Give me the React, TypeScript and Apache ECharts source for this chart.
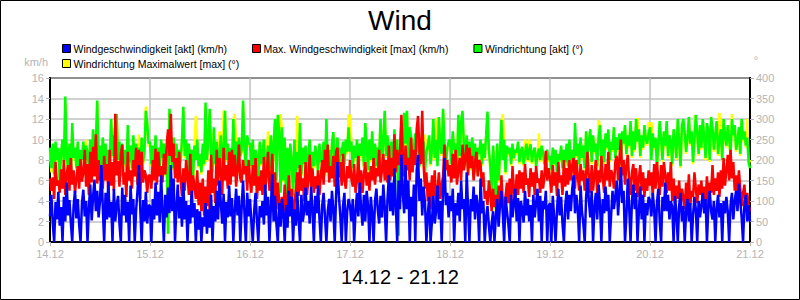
import React, { useEffect, useRef } from "react";
import * as echarts from "echarts";

const titleText = "Wind";
const subTitleText = "14.12 - 21.12";
const dateLabels = ["14.12", "15.12", "16.12", "17.12", "18.12", "19.12", "20.12", "21.12"];
const seriesNames = [
  "Windgeschwindigkeit [akt] (km/h)",
  "Max. Windgeschwindigkeit [max] (km/h)",
  "Windrichtung [akt] (°)",
  "Windrichtung Maximalwert [max] (°)",
];
const stepHours = 1 / 3; // one reading every 20 minutes from 14.12 00:00

// Windgeschwindigkeit [akt] (km/h)
const speedNow = [
  // 14.12
  2.5, 4.6, 1.8, 0, 3.9, 2.2, 4.9, 1.6, 3.4, 0, 4.4, 2.0,
  5.8, 2.6, 4.1, 1.9, 0, 3.5, 5.0, 2.3, 4.2, 1.7, 0, 3.8,
  5.1, 2.5, 4.0, 0, 3.3, 5.6, 2.1, 4.4, 6.1, 3.0, 5.0, 2.4,
  4.0, 7.5, 3.4, 0, 4.8, 2.2, 5.9, 2.4, 3.9, 0, 5.2, 2.0,
  3.6, 4.5, 1.8, 0, 5.3, 2.6, 4.6, 1.9, 3.9, 0, 5.5, 2.7,
  4.2, 0, 3.1, 5.0, 7.5, 3.2, 0, 4.1, 2.0, 4.9, 1.8, 3.6,
  // 15.12
  3.5, 0, 4.2, 2.2, 5.8, 2.6, 4.9, 1.9, 6.5, 3.1, 0, 4.6,
  2.4, 5.3, 2.8, 7.5, 3.0, 6.2, 0, 3.4, 5.6, 2.3, 4.4, 1.5,
  5.8, 2.2, 4.0, 0, 3.6, 1.8, 5.0, 2.4, 3.8, 0, 3.2, 1.2,
  3.0, 0, 2.4, 1.5, 3.8, 0.8, 3.2, 1.4, 4.6, 0, 3.5, 2.0,
  5.0, 2.2, 6.0, 3.8, 1.8, 4.7, 0, 3.9, 2.4, 5.5, 2.5, 4.3,
  0, 3.0, 5.2, 2.6, 4.5, 0, 3.4, 6.0, 2.8, 0, 4.8, 2.5,
  // 16.12
  4.2, 1.9, 0, 3.0, 4.8, 2.1, 0, 3.5, 2.4, 4.0, 1.7, 5.6,
  2.6, 4.4, 0, 3.3, 6.6, 2.0, 4.5, 1.8, 0, 3.8, 1.5, 4.2,
  2.8, 0, 3.6, 1.4, 5.0, 2.5, 4.4, 0, 3.2, 1.6, 4.9, 2.2,
  0, 4.6, 2.0, 3.0, 5.3, 2.6, 4.0, 1.8, 5.4, 3.2, 0, 4.5,
  2.8, 5.5, 2.3, 0, 3.6, 4.8, 2.4, 0, 3.0, 4.2, 2.0, 5.0,
  3.2, 0, 4.6, 7.8, 4.5, 2.6, 0, 3.6, 4.8, 0, 3.0, 4.2,
  // 17.12
  3.5, 2.0, 4.2, 0, 3.0, 4.8, 2.5, 5.8, 3.2, 1.6, 4.6, 2.0,
  5.0, 3.6, 0, 4.4, 2.8, 0, 4.0, 5.2, 3.1, 1.8, 4.5, 2.4,
  5.6, 3.4, 0, 4.2, 6.5, 3.0, 5.8, 2.6, 7.2, 3.5, 0, 6.0,
  3.2, 8.5, 4.8, 2.8, 7.5, 3.2, 6.0, 0, 4.4, 2.5, 5.6, 0,
  7.0, 8.5, 4.0, 6.2, 2.6, 5.4, 3.8, 0, 2.6, 4.4, 0, 2.0,
  4.5, 1.8, 3.0, 5.5, 2.2, 4.0, 0, 5.0, 8.2, 3.6, 4.8, 2.4,
  // 18.12
  4.5, 3.0, 5.2, 0, 3.8, 2.6, 4.8, 2.0, 6.0, 3.2, 4.2, 0,
  6.8, 3.4, 0, 4.2, 3.0, 5.4, 2.2, 4.6, 3.5, 0, 6.2, 2.8,
  4.0, 0, 2.4, 3.5, 1.6, 0, 1.8, 3.0, 0, 2.5, 4.2, 1.5,
  3.6, 5.0, 2.8, 0, 4.4, 3.0, 1.8, 0, 4.6, 2.4, 3.8, 5.2,
  2.0, 4.3, 0, 4.0, 3.2, 1.9, 5.0, 2.6, 4.2, 2.0, 3.6, 0,
  4.6, 2.4, 3.8, 5.2, 2.0, 4.5, 0, 4.0, 3.2, 5.0, 0, 3.5,
  // 19.12
  3.8, 0, 4.5, 2.4, 0, 3.0, 5.2, 2.6, 4.4, 1.8, 0, 3.6,
  5.0, 2.2, 4.6, 3.0, 5.2, 6.5, 2.8, 4.6, 3.2, 0, 5.5, 3.0,
  1.8, 0, 4.4, 6.2, 4.0, 2.4, 5.0, 0, 3.4, 4.8, 2.2, 5.6,
  3.6, 0, 4.2, 2.8, 5.4, 3.0, 4.6, 0, 2.6, 5.0, 3.2, 4.4,
  6.0, 2.6, 4.8, 7.3, 3.8, 5.0, 0, 2.5, 6.2, 3.4, 0, 4.0,
  5.6, 3.2, 4.8, 0, 3.0, 5.4, 2.2, 4.6, 0, 3.8, 2.6, 4.4,
  // 20.12
  4.0, 2.5, 4.8, 3.2, 0, 3.8, 5.2, 2.0, 0, 4.4, 3.0, 5.8,
  3.0, 4.6, 2.2, 4.0, 3.4, 0, 4.5, 2.8, 0, 3.6, 4.8, 2.0,
  3.5, 0, 3.0, 4.2, 2.0, 3.8, 0, 2.6, 4.4, 3.2, 0, 4.0,
  2.4, 3.6, 4.8, 2.8, 4.2, 0, 3.4, 5.0, 3.0, 2.2, 4.0, 0,
  3.2, 4.6, 2.4, 3.8, 0, 4.0, 2.8, 4.4, 3.0, 0, 3.6, 4.8,
  2.2, 4.0, 5.0, 3.0, 5.7, 4.0, 2.4, 0, 3.8, 4.6, 2.0, 3.6,
  // 21.12 00:00
  2.0,
];

// Max. Windgeschwindigkeit [max] (km/h)
const speedMax = [
  // 14.12
  6.2, 5.0, 6.3, 4.2, 7.8, 5.5, 6.0, 4.8, 7.1, 5.2, 8.0, 4.6,
  6.6, 7.5, 5.0, 8.2, 5.6, 7.0, 4.8, 6.2, 7.4, 5.2, 8.1, 5.9,
  6.8, 9.0, 5.4, 7.6, 4.6, 8.8, 5.8, 9.3, 6.4, 10.5, 5.7, 8.0,
  6.0, 7.2, 5.2, 8.4, 6.0, 7.6, 4.8, 9.0, 5.5, 7.8, 5.0, 12.5,
  6.5, 7.9, 5.4, 8.5, 9.5, 5.6, 6.8, 4.4, 8.8, 6.0, 7.0, 5.2,
  8.0, 6.4, 9.2, 5.6, 9.0, 4.2, 8.8, 5.8, 7.0, 6.5, 4.8, 6.5,
  // 15.12
  6.5, 5.2, 8.0, 6.0, 9.1, 5.6, 8.8, 6.4, 7.4, 5.8, 8.6, 6.6,
  9.5, 11.0, 8.4, 12.5, 7.8, 9.6, 6.2, 8.2, 5.8, 8.8, 6.1, 4.5,
  7.2, 5.0, 8.0, 6.4, 4.6, 8.6, 3.8, 6.5, 5.5, 4.2, 7.0, 3.6,
  5.8, 3.0, 6.2, 2.6, 5.4, 3.5, 7.0, 2.8, 8.5, 4.8, 6.2, 3.8,
  9.0, 5.5, 8.2, 6.8, 4.6, 9.2, 6.0, 7.5, 5.2, 8.8, 5.6, 9.0,
  6.4, 8.5, 5.4, 7.0, 9.5, 6.2, 5.8, 8.0, 6.6, 7.4, 5.0, 8.0,
  // 16.12
  6.0, 4.8, 7.5, 5.5, 8.2, 4.2, 6.4, 5.0, 7.0, 4.6, 8.3, 5.2,
  6.6, 8.8, 5.0, 5.8, 8.6, 4.5, 6.8, 3.2, 5.8, 4.0, 2.5, 4.4,
  3.0, 5.6, 2.4, 4.0, 6.5, 3.2, 5.2, 2.6, 3.8, 5.0, 6.8, 4.5,
  7.5, 5.0, 6.2, 4.0, 7.8, 4.6, 6.0, 8.5, 5.4, 7.2, 4.8, 6.4,
  5.2, 7.0, 4.6, 6.5, 8.0, 5.6, 9.0, 6.8, 9.5, 5.8, 7.4, 6.2,
  8.4, 5.4, 8.8, 9.2, 6.3, 7.8, 5.5, 8.6, 6.0, 5.2, 7.4, 6.2,
  // 17.12
  8.0, 6.2, 5.4, 7.6, 4.8, 6.0, 8.4, 5.2, 7.0, 4.8, 6.5, 7.8,
  5.5, 6.8, 5.0, 7.4, 6.0, 8.2, 5.6, 7.2, 6.4, 9.0, 5.8, 7.0,
  8.6, 6.0, 8.0, 5.8, 9.4, 6.0, 8.2, 6.4, 10.5, 6.8, 9.0, 7.5,
  8.4, 12.4, 8.5, 6.4, 9.4, 7.0, 8.2, 6.0, 10.2, 6.8, 9.0, 7.5,
  11.0, 12.3, 8.8, 7.6, 12.8, 7.5, 5.2, 6.8, 4.0, 5.8, 3.2, 6.5,
  4.5, 7.0, 3.4, 5.0, 6.8, 4.2, 5.6, 6.4, 9.5, 7.0, 8.0, 6.4,
  // 18.12
  7.5, 5.8, 8.6, 6.2, 9.0, 5.6, 7.0, 8.2, 6.0, 9.5, 7.0, 8.2,
  9.5, 6.5, 9.2, 7.2, 8.4, 6.0, 7.8, 8.8, 6.4, 8.0, 7.6, 5.4,
  6.8, 4.2, 5.0, 3.6, 6.0, 4.8, 3.0, 5.2, 3.4, 4.6, 2.8, 5.5,
  3.4, 6.5, 4.0, 2.5, 4.5, 5.8, 3.8, 6.2, 3.2, 7.4, 5.0, 4.2,
  6.6, 4.6, 7.0, 5.2, 6.8, 4.8, 7.6, 5.6, 6.2, 4.4, 7.2, 5.4,
  6.8, 4.6, 7.4, 5.8, 6.2, 4.8, 7.0, 5.2, 6.4, 8.9, 6.0, 7.2,
  // 19.12
  6.2, 4.8, 7.5, 5.5, 6.8, 4.5, 7.8, 5.8, 6.5, 4.6, 8.0, 5.4,
  7.2, 5.6, 8.0, 6.0, 7.5, 8.2, 5.2, 8.0, 6.4, 5.0, 7.6, 6.0,
  7.0, 5.0, 6.6, 8.8, 6.2, 4.8, 7.5, 5.0, 6.6, 8.0, 4.6, 7.0,
  5.8, 8.4, 6.2, 4.8, 7.6, 6.0, 8.8, 5.4, 7.0, 6.6, 5.2, 7.8,
  8.4, 6.0, 8.2, 10.0, 6.5, 8.0, 5.6, 7.4, 8.5, 6.0, 4.6, 6.8,
  7.6, 5.0, 7.2, 4.4, 6.2, 7.5, 5.0, 6.8, 4.4, 6.2, 5.0, 7.0,
  // 20.12
  5.5, 6.8, 4.5, 7.6, 5.2, 7.8, 6.0, 4.6, 7.5, 5.4, 7.8, 6.5,
  4.8, 6.8, 5.0, 7.8, 4.0, 6.2, 3.8, 5.5, 4.2, 6.0, 3.5, 5.2,
  4.4, 3.2, 5.8, 4.0, 6.6, 3.6, 5.0, 4.4, 6.8, 5.2, 3.8, 5.6,
  4.6, 6.0, 3.6, 5.4, 4.0, 6.4, 3.4, 5.8, 4.8, 7.5, 4.6, 6.2,
  5.0, 6.8, 4.4, 7.0, 5.2, 8.2, 5.5, 7.0, 8.5, 6.0, 9.0, 6.2,
  7.8, 5.0, 6.5, 4.2, 7.0, 5.2, 3.5, 4.8, 5.6, 3.2, 4.8, 3.6,
  // 21.12 00:00
  3.0,
];

// Windrichtung [akt] (°)
const dirNow = [
  // 14.12
  230, 180, 240, 165, 245, 200, 230, 150, 220, 250, 195, 355,
  210, 175, 240, 160, 290, 205, 230, 180, 245, 170, 225, 200,
  245, 165, 235, 215, 185, 250, 170, 275, 190, 240, 345, 185,
  235, 170, 255, 200, 240, 160, 225, 195, 300, 210, 260, 175,
  312, 200, 245, 160, 240, 190, 225, 170, 285, 195, 235, 180,
  260, 165, 240, 205, 230, 175, 255, 195, 220, 320, 290, 240,
  // 15.12
  245, 190, 235, 170, 260, 200, 230, 175, 250, 205, 240, 165,
  225, 20, 325, 230, 180, 255, 210, 240, 175, 225, 195, 250,
  330, 210, 250, 170, 240, 190, 225, 160, 235, 200, 250, 185,
  215, 170, 240, 190, 340, 200, 250, 325, 220, 170, 280, 190,
  245, 175, 215, 260, 180, 225, 320, 200, 240, 165, 230, 185,
  300, 200, 245, 170, 255, 210, 225, 345, 230, 185, 260, 240,
  // 16.12
  240, 185, 250, 170, 225, 205, 160, 245, 190, 220, 250, 175,
  200, 235, 180, 260, 165, 240, 300, 150, 310, 270, 120, 280,
  150, 255, 105, 230, 130, 240, 200, 115, 250, 145, 220, 180,
  290, 165, 230, 190, 235, 160, 210, 250, 175, 220, 185, 235,
  215, 170, 240, 195, 200, 245, 165, 300, 190, 225, 170, 240,
  268, 185, 215, 255, 175, 230, 210, 245, 190, 250, 220, 280,
  // 17.12
  220, 245, 180, 235, 205, 250, 170, 240, 210, 255, 185, 290,
  235, 175, 250, 200, 270, 165, 240, 185, 230, 210, 300, 190,
  245, 320, 210, 260, 180, 230, 245, 175, 275, 200, 250, 15,
  230, 290, 200, 315, 240, 320, 195, 280, 255, 175, 230, 265,
  220, 250, 185, 230, 215, 245, 170, 220, 235, 260, 190, 225,
  300, 205, 250, 185, 305, 235, 215, 325, 240, 190, 230, 245,
  // 18.12
  250, 190, 270, 225, 240, 175, 310, 210, 295, 320, 235, 185,
  260, 215, 245, 180, 255, 200, 240, 170, 230, 215, 250, 190,
  240, 205, 260, 318, 225, 185, 120, 235, 180, 80, 240, 150,
  215, 298, 200, 250, 170, 235, 215, 230, 190, 240, 205, 225,
  218, 245, 195, 222, 232, 190, 215, 240, 200, 225, 238, 195,
  220, 230, 185, 212, 228, 200, 235, 218, 190, 210, 225, 200,
  // 19.12
  210, 175, 230, 190, 225, 165, 215, 200, 235, 180, 225, 195,
  240, 185, 250, 200, 225, 170, 290, 210, 240, 190, 255, 205,
  235, 180, 270, 215, 245, 275, 195, 260, 220, 240, 185, 255,
  285, 210, 250, 195, 265, 230, 275, 200, 245, 225, 280, 205,
  255, 225, 265, 190, 270, 240, 285, 215, 260, 235, 295, 210,
  270, 225, 300, 245, 275, 210, 260, 230, 285, 250, 240, 265,
  // 20.12
  280, 200, 265, 230, 255, 185, 240, 295, 250, 200, 270, 235,
  295, 210, 260, 245, 190, 275, 250, 205, 300, 245, 185, 285,
  300, 265, 220, 255, 305, 240, 270, 195, 250, 310, 265, 215,
  285, 230, 300, 255, 205, 290, 270, 200, 305, 280, 225, 260,
  295, 215, 250, 275, 200, 300, 260, 235, 285, 250, 215, 300,
  260, 285, 225, 245, 280, 215, 300, 250, 270, 235, 255, 195,
  // 21.12 00:00
  180,
];

// Windrichtung Maximalwert [max] (°)
const dirMax = [
  // 14.12
  220, 170, 230, 160, 235, 195, 225, 145, 215, 240, 190, 340,
  205, 170, 235, 155, 268, 200, 225, 175, 240, 165, 220, 195,
  240, 160, 250, 210, 180, 245, 165, 270, 185, 235, 340, 180,
  230, 165, 250, 195, 235, 155, 220, 190, 295, 205, 278, 170,
  305, 195, 240, 155, 235, 185, 220, 165, 245, 190, 230, 175,
  255, 160, 235, 200, 262, 170, 250, 190, 215, 330, 285, 235,
  // 15.12
  235, 185, 230, 165, 255, 195, 225, 170, 245, 200, 235, 160,
  220, 20, 315, 225, 175, 250, 205, 235, 170, 220, 190, 245,
  320, 205, 245, 165, 235, 185, 220, 155, 230, 308, 245, 180,
  210, 165, 235, 185, 330, 195, 245, 315, 215, 165, 275, 185,
  240, 170, 270, 255, 175, 320, 315, 195, 235, 160, 225, 180,
  295, 312, 240, 165, 250, 205, 220, 335, 225, 180, 255, 235,
  // 16.12
  235, 180, 245, 165, 220, 200, 155, 240, 185, 215, 245, 170,
  195, 270, 175, 255, 160, 235, 295, 145, 305, 265, 312, 275,
  145, 250, 100, 225, 125, 235, 195, 110, 245, 140, 308, 175,
  240, 160, 225, 185, 230, 155, 205, 245, 170, 215, 180, 230,
  210, 165, 235, 190, 195, 240, 160, 265, 185, 220, 165, 235,
  262, 180, 210, 250, 170, 225, 205, 240, 185, 245, 215, 310,
  // 17.12
  308, 240, 175, 230, 200, 245, 165, 235, 205, 250, 180, 285,
  230, 170, 245, 195, 265, 160, 235, 180, 225, 205, 295, 185,
  240, 315, 205, 255, 175, 225, 240, 170, 270, 195, 245, 15,
  225, 285, 195, 310, 235, 315, 190, 275, 250, 170, 225, 260,
  215, 245, 180, 225, 210, 240, 262, 215, 230, 255, 185, 220,
  295, 200, 245, 302, 300, 230, 210, 320, 235, 185, 225, 240,
  // 18.12
  245, 185, 265, 220, 235, 170, 305, 205, 290, 315, 230, 180,
  255, 210, 240, 175, 250, 195, 235, 165, 225, 210, 245, 185,
  235, 200, 255, 312, 220, 180, 115, 230, 175, 75, 235, 145,
  210, 290, 312, 245, 165, 230, 210, 225, 185, 235, 200, 220,
  213, 240, 190, 218, 228, 185, 250, 235, 195, 250, 232, 190,
  215, 225, 180, 208, 265, 195, 230, 212, 185, 205, 220, 195,
  // 19.12
  205, 170, 225, 185, 220, 160, 210, 195, 230, 175, 220, 190,
  235, 180, 245, 195, 220, 165, 260, 205, 235, 185, 250, 200,
  230, 175, 265, 210, 240, 270, 190, 255, 215, 235, 180, 298,
  280, 205, 245, 190, 260, 225, 270, 195, 240, 220, 275, 200,
  250, 220, 260, 185, 265, 235, 280, 210, 255, 230, 290, 205,
  265, 220, 295, 302, 270, 205, 255, 225, 280, 245, 235, 292,
  // 20.12
  275, 292, 260, 225, 250, 180, 235, 290, 245, 195, 265, 230,
  290, 205, 255, 240, 185, 270, 245, 200, 295, 240, 180, 280,
  295, 260, 215, 250, 300, 235, 265, 190, 308, 305, 260, 210,
  280, 225, 295, 250, 200, 285, 265, 195, 300, 275, 220, 255,
  290, 210, 315, 270, 195, 295, 255, 230, 280, 245, 210, 312,
  255, 280, 220, 240, 275, 210, 295, 245, 265, 230, 300, 190,
  // 21.12 00:00
  200,
];

const colors = ["#0000ff", "#ff0000", "#00ff00", "#ffff00"];
const labelGray = "#b4b4b4";
const gridGray = "#c0c0c0";
const font = "Liberation Sans, Arial, sans-serif";

const toPoints = (arr: number[]) => arr.map((v, i) => [i * stepHours, v]);

export default function App() {
  const ref = useRef<HTMLDivElement>(null);
  useEffect(() => {
    document.body.style.margin = "0";
    if (!ref.current) return;
    const chart = echarts.init(ref.current, undefined, { renderer: "svg" });
    const legendItem = (i: number) => ({
      name: seriesNames[i],
      itemStyle: { color: colors[i], borderColor: "#000", borderWidth: 1 },
    });
    const lineSeries = (i: number, axis: number, data: number[]) => ({
      name: seriesNames[i],
      type: "line",
      yAxisIndex: axis,
      data: toPoints(data),
      showSymbol: false,
      color: colors[i],
      lineStyle: { width: 2.5, color: colors[i] },
    });
    const legendText = { fontSize: 10.5, color: "#000", fontFamily: font, padding: [0, 0, 0, -2] };
    chart.setOption({
      animation: false,
      backgroundColor: "#fff",
      title: {
        text: titleText,
        left: "center",
        top: 1,
        textStyle: { fontSize: 28, fontWeight: "normal", color: "#000", fontFamily: font },
      },
      legend: [
        {
          data: [legendItem(0), legendItem(1), legendItem(2)],
          left: 57,
          top: 38,
          icon: "rect",
          itemWidth: 8,
          itemHeight: 8,
          itemGap: 25,
          selectedMode: false,
          textStyle: legendText,
        },
        {
          data: [legendItem(3)],
          left: 57,
          top: 53,
          icon: "rect",
          itemWidth: 8,
          itemHeight: 8,
          selectedMode: false,
          textStyle: legendText,
        },
      ],
      grid: {
        left: 50,
        right: 50,
        top: 78,
        bottom: 58,
        show: true,
        borderColor: "#000",
        borderWidth: 2,
        backgroundColor: "transparent",
      },
      xAxis: {
        type: "value",
        min: 0,
        max: 168,
        interval: 24,
        axisLine: { show: true, lineStyle: { color: "#000", width: 2 } },
        axisTick: { show: true, length: 4, lineStyle: { color: labelGray } },
        axisLabel: {
          color: labelGray,
          fontSize: 11,
          fontFamily: font,
          margin: 6,
          formatter: (v: number) => dateLabels[Math.round(v / 24)] ?? "",
        },
        splitLine: { show: true, lineStyle: { color: gridGray, width: 1.5 } },
      },
      yAxis: [
        {
          type: "value",
          min: 0,
          max: 16,
          interval: 2,
          position: "left",
          axisLine: { show: true, lineStyle: { color: "#000", width: 2 } },
          axisTick: { show: true, length: 4, lineStyle: { color: labelGray } },
          axisLabel: { color: labelGray, fontSize: 11, fontFamily: font, margin: 6 },
          splitLine: { show: true, lineStyle: { color: gridGray, width: 1.5 } },
        },
        {
          type: "value",
          min: 0,
          max: 400,
          interval: 50,
          position: "right",
          axisLine: { show: true, lineStyle: { color: "#000", width: 2 } },
          axisTick: { show: true, length: 4, lineStyle: { color: labelGray } },
          axisLabel: { color: labelGray, fontSize: 11, fontFamily: font, margin: 6 },
          splitLine: { show: false },
        },
      ],
      graphic: [
        {
          type: "rect",
          silent: true,
          shape: { x: 0.5, y: 0.5, width: 799, height: 299 },
          style: { fill: "none", stroke: "#000", lineWidth: 1 },
        },
        {
          type: "text",
          x: 48,
          y: 62,
          style: { text: "km/h", fill: labelGray, font: `11px ${font}`, textAlign: "right", textVerticalAlign: "middle" },
        },
        {
          type: "text",
          x: 756,
          y: 60,
          style: { text: "°", fill: labelGray, font: `11px ${font}`, textAlign: "center", textVerticalAlign: "middle" },
        },
        {
          type: "text",
          x: 400,
          y: 277,
          style: { text: subTitleText, fill: "#000", font: `20px ${font}`, textAlign: "center", textVerticalAlign: "middle" },
        },
      ],
      series: [
        lineSeries(3, 1, dirMax),
        lineSeries(2, 1, dirNow),
        lineSeries(1, 0, speedMax),
        lineSeries(0, 0, speedNow),
      ],
    });
    return () => chart.dispose();
  }, []);
  return <div ref={ref} style={{ width: 800, height: 300 }} />;
}
